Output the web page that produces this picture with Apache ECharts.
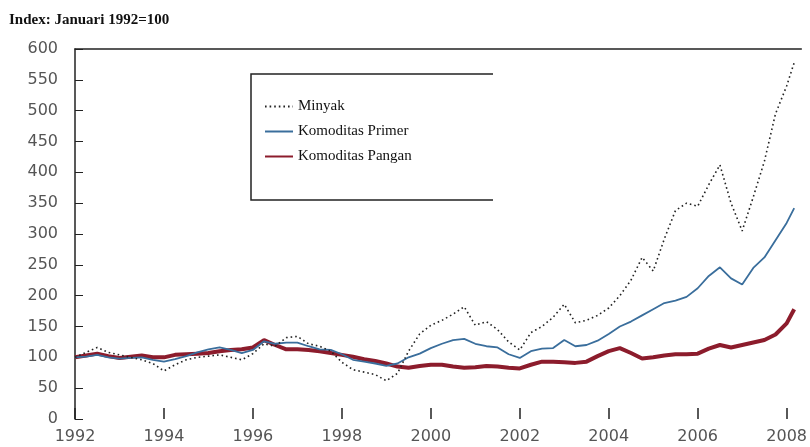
<!DOCTYPE html>
<html>
<head>
<meta charset="utf-8">
<script src="https://cdn.jsdelivr.net/npm/echarts@6/dist/echarts.min.js"></script>
<style>
    html, body { margin: 0; padding: 0; background: #fff; }
    #chart { width: 810px; height: 447px; }
</style>
</head>
<body>
<div id="chart"></div>
<script>
// quarterly points, fractional years (last one ~Feb 2008)
const dates = [
    1992, 1992.25, 1992.5, 1992.75, 1993, 1993.25, 1993.5, 1993.75,
    1994, 1994.25, 1994.5, 1994.75, 1995, 1995.25, 1995.5, 1995.75,
    1996, 1996.25, 1996.5, 1996.75, 1997, 1997.25, 1997.5, 1997.75,
    1998, 1998.25, 1998.5, 1998.75, 1999, 1999.25, 1999.5, 1999.75,
    2000, 2000.25, 2000.5, 2000.75, 2001, 2001.25, 2001.5, 2001.75,
    2002, 2002.25, 2002.5, 2002.75, 2003, 2003.25, 2003.5, 2003.75,
    2004, 2004.25, 2004.5, 2004.75, 2005, 2005.25, 2005.5, 2005.75,
    2006, 2006.25, 2006.5, 2006.75, 2007, 2007.25, 2007.5, 2007.75,
    2008, 2008.17
]

const minyak = [
    100, 108, 116, 108, 104, 100, 96, 90,
    78, 88, 96, 100, 102, 104, 100, 96,
    106, 122, 118, 132, 134, 122, 118, 110,
    92, 80, 76, 72, 62, 74, 110, 138,
    152, 160, 170, 182, 152, 158, 145, 125,
    112, 140, 150, 165, 186, 156, 160, 168,
    180, 200, 225, 262, 240, 292, 338, 350,
    345, 380, 412, 350, 305, 360, 418, 495,
    540, 578
]

const primer = [
    100, 101, 104, 100, 98, 99, 100, 96,
    93, 97, 102, 108, 113, 116, 112, 107,
    112, 126, 122, 124, 124, 118, 113, 112,
    105, 96, 93, 90, 86, 90, 100, 106,
    115, 122, 128, 130, 122, 118, 116, 105,
    99, 110, 114, 115, 128, 118, 120, 127,
    138, 150, 158, 168, 178, 188, 192, 198,
    212, 232, 246, 228, 218, 245, 262, 290,
    318, 342
]

const pangan = [
    100, 103, 106, 102, 99, 101, 103, 100,
    100, 104, 105, 106, 107, 110, 112, 113,
    116, 128, 120, 113, 113, 112, 110, 107,
    104, 101, 97, 94, 90, 85, 83, 86,
    88, 88, 85, 83, 84, 86, 85, 83,
    82, 88, 93, 93, 92, 91, 93, 102,
    110, 115, 107, 98, 100, 103, 105, 105,
    106, 114, 120, 116, 120, 124, 128, 137,
    155, 178
]

const tickYears = [1992, 1994, 1996, 1998, 2000, 2002, 2004, 2006, 2008]

const pairs = (vals) => dates.map((d, i) => [d, vals[i]])

const chart = echarts.init(document.getElementById('chart'))

const labelFont = {
    color: '#555',
    fontFamily: 'DejaVu Sans',
    fontSize: 16
}

const options = {
    animation: false,
    title: {
        text: 'Index: Januari 1992=100',
        left: 4,
        top: 8,
        textStyle: {
            fontFamily: 'Liberation Serif',
            fontWeight: 'bold',
            fontSize: 15,
            color: '#111'
        }
    },
    legend: {
        orient: 'vertical',
        left: 259,
        top: 94,
        itemWidth: 28,
        itemHeight: 14,
        itemGap: 10,
        itemStyle: { opacity: 0 },
        textStyle: {
            fontFamily: 'Liberation Serif',
            fontSize: 15,
            color: '#111'
        },
        data: ['Minyak', 'Komoditas Primer', 'Komoditas Pangan']
    },
    graphic: [
        {
            type: 'polyline',
            shape: { points: [[493, 74], [251, 74], [251, 200], [493, 200]] },
            style: { stroke: '#222', lineWidth: 1.5, fill: null }
        }
    ],
    grid: {
        left: 75,
        right: 5,
        top: 49,
        bottom: 28
    },
    xAxis: [
        {
            type: 'value',
            min: 1992,
            max: 2008.33,
            splitLine: { show: false },
            axisLine: { show: false },
            axisTick: {
                show: true,
                inside: true,
                length: 11,
                customValues: tickYears,
                lineStyle: { color: '#222', width: 1.5 }
            },
            axisLabel: {
                ...labelFont,
                margin: 10,
                customValues: tickYears,
                formatter: (v) => String(Math.round(v))
            }
        },
        {
            type: 'value',
            position: 'top',
            min: 1992,
            max: 2008.33,
            splitLine: { show: false },
            axisLine: { show: true, lineStyle: { color: '#222', width: 1.5 } },
            axisTick: { show: false },
            axisLabel: { show: false }
        }
    ],
    yAxis: {
        type: 'value',
        min: 0,
        max: 600,
        interval: 50,
        splitLine: { show: false },
        axisLine: { show: true, lineStyle: { color: '#222', width: 1.5 } },
        axisTick: { show: true, inside: true, length: 8, lineStyle: { color: '#222' } },
        axisLabel: { ...labelFont, margin: 17 }
    },
    series: [
        {
            name: 'Minyak',
            type: 'line',
            symbol: 'none',
            data: pairs(minyak),
            lineStyle: { color: '#222', width: 1.6, type: [1.6, 3] },
            itemStyle: { color: '#222' },
            z: 4
        },
        {
            name: 'Komoditas Primer',
            type: 'line',
            symbol: 'none',
            data: pairs(primer),
            lineStyle: { color: '#3a6e9c', width: 1.8 },
            itemStyle: { color: '#3a6e9c' },
            z: 3
        },
        {
            name: 'Komoditas Pangan',
            type: 'line',
            symbol: 'none',
            data: pairs(pangan),
            lineStyle: { color: '#8c1c2c', width: 4 },
            itemStyle: { color: '#8c1c2c' },
            z: 2
        }
    ]
}

chart.setOption(options)
</script>
</body>
</html>
